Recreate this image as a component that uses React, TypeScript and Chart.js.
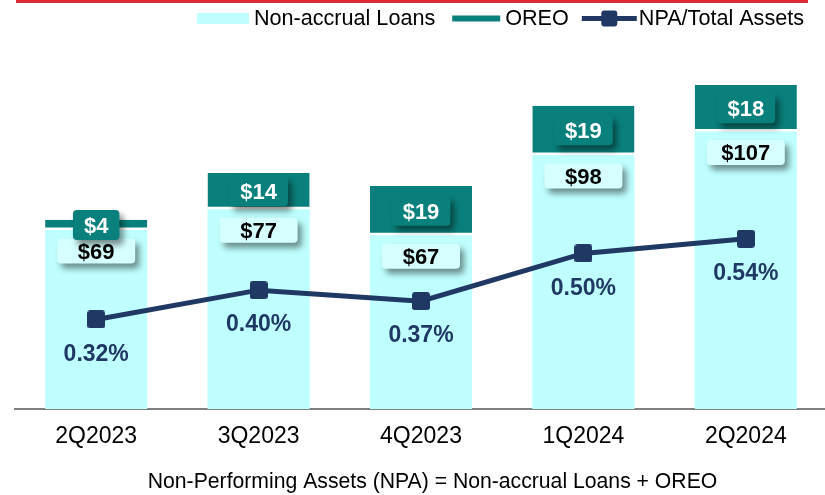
import React, { useEffect, useRef } from "react";
import { Chart, registerables } from "chart.js";

Chart.register(...registerables);

// ---- data ----
const categories = ["2Q2023", "3Q2023", "4Q2023", "1Q2024", "2Q2024"];
const nonAccrualLoans = [69, 77, 67, 98, 107];
const oreo = [4, 14, 19, 19, 18];
const npaToTotalAssets = [0.32, 0.4, 0.37, 0.5, 0.54];
const seriesNames = ["Non-accrual Loans", "OREO", "NPA/Total Assets"];
const footnote = "Non-Performing Assets (NPA) = Non-accrual Loans + OREO";

// ---- styles ----
const FONT = "'Liberation Sans', Arial, Helvetica, sans-serif";
const CYAN = "#BFFFFF";
const CYAN_LABEL = "#D6FFFF";
const TEAL = "#0A807C";
const NAVY = "#203864";
const RED = "#DC2A36";

function makeMarker(size: number, r: number, color: string) {
  const c = document.createElement("canvas");
  c.width = size;
  c.height = size;
  const g = c.getContext("2d")!;
  g.fillStyle = color;
  g.beginPath();
  (g as any).roundRect(0, 0, size, size, r);
  g.fill();
  return c;
}

function shadowBox(ctx: CanvasRenderingContext2D, cx: number, cy: number, w: number, h: number, fill: string) {
  ctx.save();
  ctx.shadowColor = "rgba(0,0,0,0.45)";
  ctx.shadowBlur = 6;
  ctx.shadowOffsetX = 4;
  ctx.shadowOffsetY = 5;
  ctx.fillStyle = fill;
  ctx.beginPath();
  (ctx as any).roundRect(cx - w / 2, cy - h / 2, w, h, 4);
  ctx.fill();
  ctx.restore();
}

const fmtMoney = (v: number) => "$" + v;
const fmtPct = (v: number) => v.toFixed(2) + "%";

const overlayPlugin = {
  id: "overlay",
  beforeDraw(chart: any) {
    const ctx: CanvasRenderingContext2D = chart.ctx;
    ctx.save();
    ctx.fillStyle = "#ffffff";
    ctx.fillRect(0, 0, chart.width, chart.height);
    // top red rule
    ctx.fillStyle = RED;
    ctx.fillRect(16, 0, 792, 3);
    // legend (right aligned)
    ctx.font = `21.6px ${FONT}`;
    ctx.textBaseline = "alphabetic";
    ctx.textAlign = "left";
    const baseY = 25;
    const midY = 18.5;
    const w1 = ctx.measureText(seriesNames[0]).width;
    const w2 = ctx.measureText(seriesNames[1]).width;
    const w3 = ctx.measureText(seriesNames[2]).width;
    const x3 = 804 - w3;
    const l3e = x3 - 2;
    const l3s = l3e - 55;
    const x2 = l3s - 13 - w2;
    const l2e = x2 - 5;
    const l2s = l2e - 48;
    const x1 = l2s - 17 - w1;
    const b1e = x1 - 5;
    const b1s = b1e - 52;
    ctx.fillStyle = CYAN;
    ctx.fillRect(b1s, 13, 52, 11);
    ctx.fillStyle = "#000";
    ctx.fillText(seriesNames[0], x1, baseY);
    ctx.fillStyle = TEAL;
    ctx.fillRect(l2s, midY - 3, 48, 6);
    ctx.fillStyle = "#000";
    ctx.fillText(seriesNames[1], x2, baseY);
    ctx.strokeStyle = NAVY;
    ctx.lineWidth = 5;
    ctx.beginPath();
    ctx.moveTo(l3s, midY);
    ctx.lineTo(l3e, midY);
    ctx.stroke();
    ctx.fillStyle = NAVY;
    ctx.beginPath();
    (ctx as any).roundRect((l3s + l3e) / 2 - 8, midY - 8, 16, 16, 3);
    ctx.fill();
    ctx.fillStyle = "#000";
    ctx.fillText(seriesNames[2], x3, baseY);
    // footnote
    const fs = 21.2;
    ctx.font = `${fs}px ${FONT}`;
    ctx.textAlign = "center";
    ctx.fillText(footnote, 432.5, 480.5 + (fs * 0.716) / 2);
    ctx.restore();
  },
  afterDatasetsDraw(chart: any) {
    const ctx: CanvasRenderingContext2D = chart.ctx;
    ctx.save();
    ctx.textAlign = "center";
    ctx.textBaseline = "alphabetic";
    const size = 22;
    ctx.font = `bold ${size}px ${FONT}`;
    const cap = size * 0.716;
    // non-accrual labels
    const m0 = chart.getDatasetMeta(1);
    m0.data.forEach((el: any, i: number) => {
      const t = fmtMoney(nonAccrualLoans[i]);
      const tw = ctx.measureText(t).width;
      const w = Math.max(78, tw + 24);
      const cy = el.y + 21;
      shadowBox(ctx, el.x, cy, w, 25, CYAN_LABEL);
      ctx.fillStyle = "#000";
      ctx.fillText(t, el.x, cy + cap / 2);
    });
    // OREO labels
    const m1 = chart.getDatasetMeta(2);
    m1.data.forEach((el: any, i: number) => {
      const t = fmtMoney(oreo[i]);
      const tw = ctx.measureText(t).width;
      const w = tw + 22;
      const cy = (el.y + el.base) / 2;
      shadowBox(ctx, el.x, cy, w, 30, TEAL);
      ctx.fillStyle = "#fff";
      ctx.fillText(t, el.x, cy + cap / 2);
    });
    // NPA labels
    const lsize = 23;
    ctx.font = `bold ${lsize}px ${FONT}`;
    const m2 = chart.getDatasetMeta(0);
    m2.data.forEach((el: any, i: number) => {
      const t = fmtPct(npaToTotalAssets[i]);
      ctx.fillStyle = NAVY;
      ctx.fillText(t, el.x, el.y + 33 + (lsize * 0.716) / 2);
    });
    ctx.restore();
  },
};

export default function App() {
  const ref = useRef<HTMLCanvasElement | null>(null);
  useEffect(() => {
    if (!ref.current) return;
    const marker = makeMarker(18, 3, NAVY);
    const chart = new Chart(ref.current, {
      type: "bar",
      data: {
        labels: categories,
        datasets: [
          {
            type: "line",
            label: seriesNames[2],
            data: npaToTotalAssets,
            yAxisID: "y1",
            borderColor: NAVY,
            backgroundColor: NAVY,
            borderWidth: 5,
            pointStyle: marker as any,
            pointRadius: 9,
            pointHoverRadius: 9,
            tension: 0,
            order: 0,
          } as any,
          {
            type: "bar",
            label: seriesNames[0],
            data: nonAccrualLoans,
            yAxisID: "y",
            stack: "npa",
            backgroundColor: CYAN,
            borderWidth: 0,
            categoryPercentage: 1,
            barPercentage: 0.629,
            order: 1,
          },
          {
            type: "bar",
            label: seriesNames[1],
            data: oreo,
            yAxisID: "y",
            stack: "npa",
            backgroundColor: TEAL,
            borderColor: "#ffffff",
            borderWidth: { top: 0, right: 0, bottom: 2.5, left: 0 },
            borderSkipped: false,
            categoryPercentage: 1,
            barPercentage: 0.629,
            order: 1,
          } as any,
        ],
      },
      options: {
        responsive: false,
        animation: false,
        devicePixelRatio: 1,
        layout: { padding: { left: 15, right: 0, top: 46, bottom: 0 } },
        plugins: {
          legend: { display: false },
          tooltip: { enabled: false },
          title: { display: false },
        },
        scales: {
          x: {
            stacked: true,
            z: 1,
            grid: { display: false, drawTicks: false },
            border: { display: true, color: "#7f7f7f", width: 2 },
            ticks: {
              color: "#000",
              font: { family: FONT, size: 23 },
              padding: 14,
              maxRotation: 0,
              autoSkip: false,
            },
            title: { display: false },
            afterFit: (s: any) => {
              s.height = 86;
            },
          },
          y: { stacked: true, display: false, min: 0, max: 140 },
          y1: { display: false, position: "right", min: 0.076, max: 1.0656 },
        },
      } as any,
      plugins: [overlayPlugin],
    });
    return () => chart.destroy();
  }, []);
  return (
    <div
      style={{
        position: "fixed",
        left: 0,
        top: 0,
        width: 825,
        height: 495,
        overflow: "hidden",
        background: "#fff",
      }}
    >
      <canvas ref={ref} width={841} height={495} style={{ display: "block", width: 841, height: 495 }} />
    </div>
  );
}
